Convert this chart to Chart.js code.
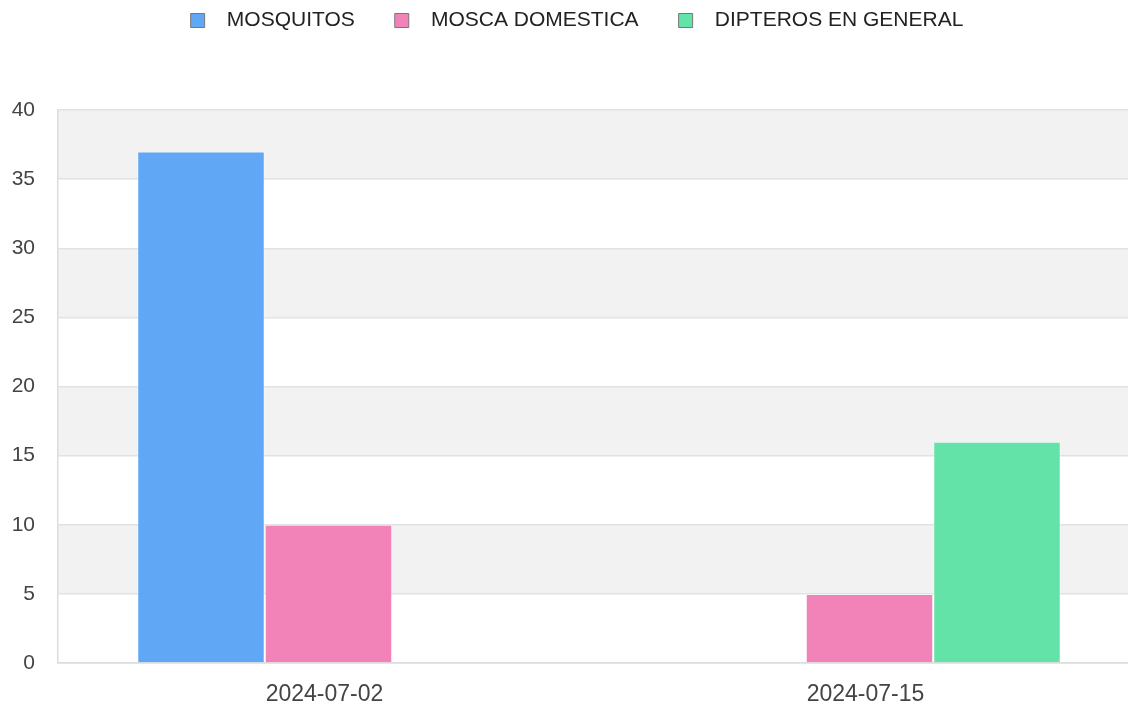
<!DOCTYPE html>
<html>
<head>
<meta charset="utf-8">
<script src="https://cdn.jsdelivr.net/npm/chart.js@4.4.1/dist/chart.umd.min.js"></script>
<style>
  html, body { margin: 0; padding: 0; background: #fff; overflow: hidden; }
  #wrap { width: 1154px; height: 704px; }
</style>
</head>
<body>
<div id="wrap"><canvas id="chart" width="1154" height="704"></canvas></div>
<script>
const categories = ['2024-07-02', '2024-07-15']
const mosquitos = [37, 0]
const moscaDomestica = [10, 5]
const dipterosGeneral = [0, 16]
const yMax = 40
const yStep = 5

// grey bands between every other pair of y ticks
const bands = {
  id: 'bands',
  beforeDraw (chart) {
    const { ctx, chartArea, scales } = chart
    const ticks = scales.y.ticks
    ctx.save()
    ctx.fillStyle = '#f2f2f2'
    for (let i = 1; i < ticks.length - 1; i += 2) {
      const top = scales.y.getPixelForValue(ticks[i + 1].value)
      const bottom = scales.y.getPixelForValue(ticks[i].value)
      ctx.fillRect(chartArea.left, top, chartArea.right - chartArea.left, bottom - top)
    }
    ctx.restore()
  }
}

// legend sits higher, chart area starts lower
const legendHeight = {
  id: 'legendHeight',
  beforeInit (chart) {
    if (!chart.legend) return
    const fit = chart.legend.fit
    chart.legend.fit = function () {
      fit.bind(chart.legend)()
      this.height = 140
    }
  }
}

const labelFont = { family: 'Liberation Sans', size: 21 }

new Chart(document.getElementById('chart'), {
  type: 'bar',
  data: {
    labels: categories,
    datasets: [
      {
        label: 'MOSQUITOS',
        data: mosquitos,
        backgroundColor: '#60a8f5',
        borderColor: 'rgba(255, 255, 255, 0.3)',
        borderWidth: 1
      },
      {
        label: 'MOSCA DOMESTICA',
        data: moscaDomestica,
        backgroundColor: '#f283b9',
        borderColor: 'rgba(255, 255, 255, 0.3)',
        borderWidth: 1
      },
      {
        label: 'DIPTEROS EN GENERAL',
        data: dipterosGeneral,
        backgroundColor: '#64e3a8',
        borderColor: 'rgba(255, 255, 255, 0.3)',
        borderWidth: 1
      }
    ]
  },
  options: {
    responsive: false,
    animation: false,
    devicePixelRatio: 1,
    categoryPercentage: 0.707,
    barPercentage: 1,
    layout: { padding: { top: -30, left: 0, right: 0, bottom: 0 } },
    plugins: {
      tooltip: { enabled: false },
      legend: {
        position: 'top',
        labels: {
          boxWidth: 14,
          boxHeight: 14,
          padding: 40,
          color: '#222',
          font: labelFont,
          generateLabels (chart) {
            return Chart.defaults.plugins.legend.labels.generateLabels(chart).map((l) => ({
              ...l,
              text: '  ' + l.text,
              strokeStyle: '#777',
              lineWidth: 1
            }))
          }
        }
      }
    },
    scales: {
      x: {
        grid: { display: false },
        border: { color: '#dcdcdc', width: 1.5 },
        ticks: {
          color: '#444',
          font: { family: 'Liberation Sans', size: 23 },
          padding: 10,
          labelOffset: -4
        },
        afterFit (scale) { scale.height = 41 }
      },
      y: {
        min: 0,
        max: yMax,
        grid: { color: '#e2e2e2', lineWidth: 1.5, drawTicks: false },
        border: { color: '#dcdcdc', width: 1.5 },
        ticks: {
          stepSize: yStep,
          color: '#444',
          font: { family: 'Liberation Sans', size: 21 },
          padding: 23
        },
        afterFit (scale) { scale.width = 58 }
      },
      yRight: {
        position: 'right',
        grid: { display: false },
        border: { display: false },
        ticks: { display: false },
        afterFit (scale) { scale.width = 14 }
      }
    }
  },
  plugins: [bands, legendHeight]
})
</script>
</body>
</html>
